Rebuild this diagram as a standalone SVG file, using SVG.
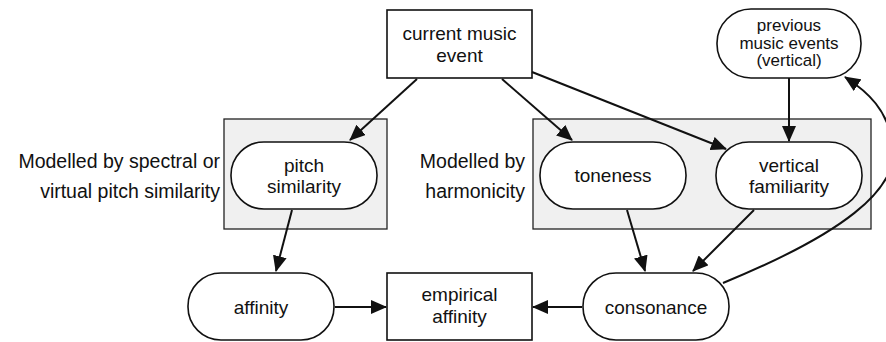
<svg xmlns="http://www.w3.org/2000/svg" width="886" height="342" viewBox="0 0 886 342">
  <defs>
    <marker id="arrow" viewBox="0 0 16 14" refX="15" refY="7" markerWidth="16" markerHeight="14" markerUnits="userSpaceOnUse" orient="auto">
      <path d="M0,0 L16,7 L0,14 Z" fill="#111"/>
    </marker>
  </defs>
  <style>
    .node { fill: #fff; stroke: #111; stroke-width: 1.6; }
    .group { fill: #f0f0f0; stroke: #222; stroke-width: 1.3; }
    .label { font-family: "Liberation Sans", Arial, sans-serif; font-size: 19px; fill: #111; text-anchor: middle; }
    .small { font-size: 17px; }
    .note { font-family: "Liberation Sans", Arial, sans-serif; font-size: 19.5px; fill: #111; text-anchor: end; }
    .edge { fill: none; stroke: #111; stroke-width: 2; marker-end: url(#arrow); }
  </style>
  <rect width="886" height="342" fill="#fff"/>

  <!-- model groupings -->
  <g id="group-spectral">
    <rect class="group" x="224" y="119" width="163" height="110"/>
    <text class="note" x="220" y="168">Modelled by spectral or</text>
    <text class="note" x="220" y="198">virtual pitch similarity</text>
  </g>
  <g id="group-harmonicity">
    <rect class="group" x="533" y="119" width="338" height="110"/>
    <text class="note" x="525" y="168">Modelled by</text>
    <text class="note" x="525" y="198">harmonicity</text>
  </g>

  <g id="current-music-event">
    <rect class="node" x="387" y="10" width="145" height="68"/>
    <text class="label" x="459.5" y="40">current music</text>
    <text class="label" x="459.5" y="62">event</text>
  </g>
  <g id="previous-music-events">
    <rect class="node" x="717" y="9" width="144" height="69" rx="34" ry="34"/>
    <text class="label small" x="789" y="31">previous</text>
    <text class="label small" x="789" y="48.5">music events</text>
    <text class="label small" x="789" y="66">(vertical)</text>
  </g>
  <g id="pitch-similarity">
    <rect class="node" x="231" y="142" width="146" height="67" rx="33" ry="33"/>
    <text class="label" x="304" y="171.5">pitch</text>
    <text class="label" x="304" y="193">similarity</text>
  </g>
  <g id="toneness">
    <rect class="node" x="540" y="142" width="146" height="67" rx="33" ry="33"/>
    <text class="label" x="613" y="182">toneness</text>
  </g>
  <g id="vertical-familiarity">
    <rect class="node" x="716" y="142" width="146" height="67" rx="33" ry="33"/>
    <text class="label" x="789" y="171.5">vertical</text>
    <text class="label" x="789" y="193">familiarity</text>
  </g>
  <g id="affinity">
    <rect class="node" x="188" y="273" width="146" height="67" rx="33" ry="33"/>
    <text class="label" x="261" y="314">affinity</text>
  </g>
  <g id="empirical-affinity">
    <rect class="node" x="387" y="273" width="145" height="67"/>
    <text class="label" x="459.5" y="301">empirical</text>
    <text class="label" x="459.5" y="322.5">affinity</text>
  </g>
  <g id="consonance">
    <rect class="node" x="583" y="273" width="146" height="67" rx="33" ry="33"/>
    <text class="label" x="656" y="314">consonance</text>
  </g>

  <g id="connectors">
    <path class="edge" d="M417,79 L350,140"/>
    <path class="edge" d="M502,79 L572,140"/>
    <path class="edge" d="M532,72 L726,149"/>
    <path class="edge" d="M789,78 L789,141"/>
    <path class="edge" d="M292,210 L276,271"/>
    <path class="edge" d="M335,307 L386,307"/>
    <path class="edge" d="M627,210 L645,271"/>
    <path class="edge" d="M754,210 L693,271"/>
    <path class="edge" d="M582,307 L533,307"/>
    <path class="edge" d="M723,283 C840,235 900,190 893,145 C888,110 868,92 845,77"/>
  </g>
</svg>
